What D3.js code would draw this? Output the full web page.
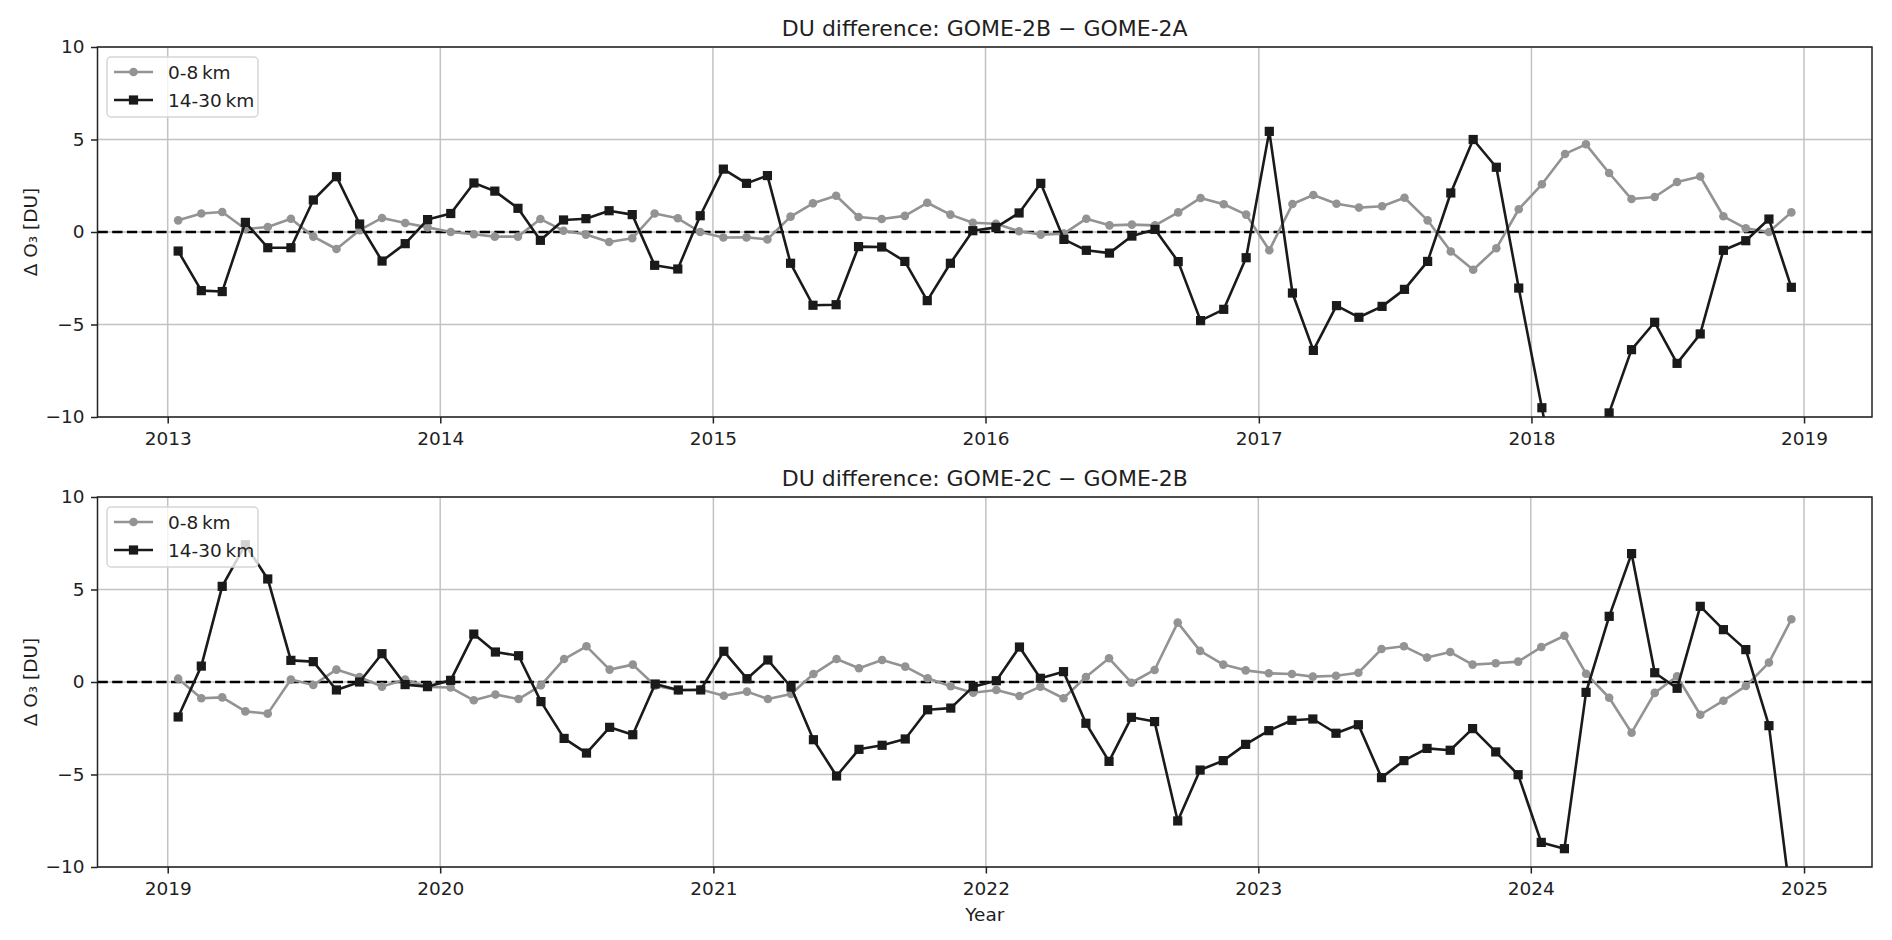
<!DOCTYPE html>
<html>
<head>
<meta charset="utf-8">
<script src="https://cdn.jsdelivr.net/npm/d3@7"></script>
<style>
body { margin: 0; background: #fff; }
text { font-family: "DejaVu Sans", sans-serif; fill: #1f1f1f; }
</style>
</head>
<body>
<div id="chart"></div>
<script>
// years shown in each panel (one value per month)
var yearsTop = [2013, 2014, 2015, 2016, 2017, 2018];
var yearsBottom = [2019, 2020, 2021, 2022, 2023, 2024];

// legend labels and y ticks
var seriesNames = ["0-8\u2009km", "14-30\u2009km"];
var yTicks = [-10, -5, 0, 5, 10];

// GOME-2B - GOME-2A, 0-8 km
var topLow = [
	0.63, 1.0, 1.08, 0.16, 0.27, 0.72, -0.25, -0.92, 0.1, 0.76, 0.49, 0.25,
	0.0, -0.12, -0.25, -0.25, 0.7, 0.07, -0.14, -0.54, -0.34, 1.0, 0.74, 0.0,
	-0.3, -0.29, -0.4, 0.83, 1.55, 1.96, 0.81, 0.7, 0.87, 1.58, 0.94, 0.5,
	0.45, 0.04, -0.14, -0.09, 0.72, 0.36, 0.4, 0.36, 1.06, 1.84, 1.5, 0.94,
	-0.99, 1.51, 2.0, 1.53, 1.32, 1.39, 1.85, 0.63, -1.05, -2.04, -0.88, 1.23,
	2.58, 4.22, 4.74, 3.19, 1.78, 1.89, 2.7, 3.0, 0.85, 0.2, 0.0, 1.06];
// GOME-2B - GOME-2A, 14-30 km
var topHigh = [
	-1.03, -3.17, -3.22, 0.52, -0.85, -0.85, 1.73, 2.99, 0.43, -1.57, -0.63, 0.67,
	1.0, 2.65, 2.21, 1.28, -0.45, 0.65, 0.72, 1.15, 0.94, -1.8, -2.0, 0.88,
	3.4, 2.63, 3.05, -1.69, -3.96, -3.93, -0.79, -0.81, -1.59, -3.71, -1.69, 0.07,
	0.25, 1.03, 2.63, -0.4, -0.99, -1.14, -0.22, 0.14, -1.6, -4.79, -4.18, -1.39,
	5.44, -3.3, -6.4, -3.98, -4.61, -4.02, -3.1, -1.59, 2.11, 5.0, 3.5, -3.03,
	-9.5, -16.0, -15.0, -9.78, -6.36, -4.88, -7.1, -5.51, -0.99, -0.47, 0.7, -2.99];
// GOME-2C - GOME-2B, 0-8 km
var bottomLow = [
	0.18, -0.88, -0.83, -1.59, -1.71, 0.13, -0.16, 0.67, 0.27, -0.25, 0.13, -0.27,
	-0.3, -0.99, -0.68, -0.92, -0.18, 1.24, 1.93, 0.67, 0.94, -0.2, -0.45, -0.41,
	-0.74, -0.52, -0.92, -0.65, 0.43, 1.24, 0.74, 1.19, 0.83, 0.2, -0.23, -0.58,
	-0.43, -0.76, -0.25, -0.88, 0.27, 1.28, -0.04, 0.65, 3.21, 1.68, 0.94, 0.63,
	0.47, 0.43, 0.29, 0.34, 0.5, 1.78, 1.93, 1.32, 1.62, 0.94, 1.01, 1.1,
	1.89, 2.5, 0.45, -0.85, -2.74, -0.59, 0.31, -1.77, -1.01, -0.22, 1.05, 3.39];
// GOME-2C - GOME-2B, 14-30 km
var bottomHigh = [
	-1.89, 0.86, 5.17, 7.42, 5.57, 1.17, 1.1, -0.43, 0.0, 1.53, -0.14, -0.25,
	0.09, 2.59, 1.62, 1.42, -1.06, -3.05, -3.84, -2.45, -2.85, -0.11, -0.43, -0.43,
	1.66, 0.18, 1.19, -0.27, -3.12, -5.08, -3.64, -3.42, -3.08, -1.5, -1.41, -0.25,
	0.07, 1.89, 0.2, 0.56, -2.23, -4.29, -1.91, -2.14, -7.51, -4.76, -4.25, -3.37,
	-2.63, -2.07, -2.0, -2.77, -2.31, -5.17, -4.25, -3.59, -3.69, -2.52, -3.78, -5.01,
	-8.67, -9.01, -0.56, 3.55, 6.94, 0.5, -0.34, 4.09, 2.83, 1.75, -2.36, -12.0];

var width = 1892, height = 940;
var left = 97.5, right = 1872;
var grayColor = "#939393", blackColor = "#1a1a1a";

var svg = d3.select("#chart").append("svg")
	.attr("width", width)
	.attr("height", height);

// mid month dates for a list of years
function monthdates(years){
	var out = [];
	years.forEach(function(y){
		for(var m = 0; m < 12; m++){ out.push(new Date(y, m, 15)); }
	});
	return out;
}

function minus(v){ return String(v).replace("-", "\u2212"); }

// function makepanel
function makepanel(id, top, bottom, title, years, low, high, showYear){
	var dates = monthdates(years);
	var t0 = dates[0].getTime(), t1 = dates[dates.length - 1].getTime();
	var pad = (t1 - t0) * 0.05;

	var x = d3.scaleTime()
		.domain([new Date(t0 - pad), new Date(t1 + pad)])
		.range([left, right]);
	var y = d3.scaleLinear()
		.domain([-10, 10])
		.range([bottom, top]);

	var yearTicks = x.ticks(d3.timeYear.every(1));

	var g = svg.append("g").attr("class", "panel");

	// clip to the plot area
	g.append("clipPath").attr("id", id)
		.append("rect")
		.attr("x", left).attr("y", top)
		.attr("width", right - left).attr("height", bottom - top);

	// grid
	g.selectAll(".gx").data(yearTicks).enter().append("line")
		.attr("x1", function(d){ return x(d); })
		.attr("x2", function(d){ return x(d); })
		.attr("y1", top).attr("y2", bottom)
		.style("stroke", "#c2c2c2").style("stroke-width", 1.5);
	g.selectAll(".gy").data(yTicks).enter().append("line")
		.attr("x1", left).attr("x2", right)
		.attr("y1", function(d){ return y(d); })
		.attr("y2", function(d){ return y(d); })
		.style("stroke", "#c2c2c2").style("stroke-width", 1.5);

	// zero line
	g.append("line")
		.attr("x1", left).attr("x2", right)
		.attr("y1", y(0)).attr("y2", y(0))
		.style("stroke", "#000").style("stroke-width", 2.6)
		.style("stroke-dasharray", "10.3,4.4");

	var plot = g.append("g").attr("clip-path", "url(#" + id + ")");

	var line = d3.line()
		.x(function(d, i){ return x(dates[i]); })
		.y(function(d){ return y(d); });

	// 0-8 km series
	plot.append("path").datum(low)
		.attr("d", line)
		.style("fill", "none").style("stroke", grayColor)
		.style("stroke-width", 2.6).style("stroke-linejoin", "round");
	plot.selectAll(".dot").data(low).enter().append("circle")
		.attr("cx", function(d, i){ return x(dates[i]); })
		.attr("cy", function(d){ return y(d); })
		.attr("r", 4.3)
		.style("fill", grayColor);

	// 14-30 km series
	plot.append("path").datum(high)
		.attr("d", line)
		.style("fill", "none").style("stroke", blackColor)
		.style("stroke-width", 2.6).style("stroke-linejoin", "round");
	plot.selectAll(".sq").data(high).enter().append("rect")
		.attr("x", function(d, i){ return x(dates[i]) - 4.6; })
		.attr("y", function(d){ return y(d) - 4.6; })
		.attr("width", 9.2).attr("height", 9.2)
		.style("fill", blackColor);

	// axes
	var xAxis = d3.axisBottom(x)
		.tickValues(yearTicks)
		.tickFormat(d3.timeFormat("%Y"))
		.tickSize(6.5).tickPadding(8).tickSizeOuter(0);
	var yAxis = d3.axisLeft(y)
		.tickValues(yTicks)
		.tickFormat(minus)
		.tickSize(6.5).tickPadding(6.5).tickSizeOuter(0);

	var ax = g.append("g")
		.attr("transform", "translate(0," + bottom + ")")
		.call(xAxis);
	var ay = g.append("g")
		.attr("transform", "translate(" + left + ",0)")
		.call(yAxis);
	[ax, ay].forEach(function(a){
		a.select(".domain").remove();
		a.selectAll("line").style("stroke", "#222").style("stroke-width", 1.5);
		a.selectAll("text").style("font-size", "18.5px")
			.style("font-family", "DejaVu Sans").style("fill", "#1f1f1f");
	});

	// frame
	g.append("rect")
		.attr("x", left).attr("y", top)
		.attr("width", right - left).attr("height", bottom - top)
		.style("fill", "none").style("stroke", "#222").style("stroke-width", 1.5);

	// title
	g.append("text")
		.attr("x", (left + right) / 2).attr("y", top - 11)
		.attr("text-anchor", "middle")
		.style("font-size", "22px")
		.text(title);

	// y label
	g.append("text")
		.attr("transform", "translate(37," + ((top + bottom) / 2) + ") rotate(-90)")
		.attr("text-anchor", "middle")
		.style("font-size", "18.5px")
		.text("\u0394 O\u2083 [DU]");

	if(showYear){
		g.append("text")
			.attr("x", (left + right) / 2).attr("y", bottom + 54)
			.attr("text-anchor", "middle")
			.style("font-size", "18.5px")
			.text("Year");
	}

	// legend
	var lg = g.append("g").attr("transform", "translate(107," + (top + 10) + ")");
	lg.append("rect")
		.attr("width", 151).attr("height", 60).attr("rx", 4)
		.style("fill", "#fff").style("fill-opacity", 0.8)
		.style("stroke", "#d6d6d6").style("stroke-width", 1.5);
	var items = lg.selectAll(".legend").data(seriesNames).enter().append("g")
		.attr("transform", function(d, i){ return "translate(0," + (15 + i * 28) + ")"; });
	items.append("line")
		.attr("x1", 7).attr("x2", 46)
		.style("stroke", function(d, i){ return i == 0 ? grayColor : blackColor; })
		.style("stroke-width", 2.6);
	items.filter(function(d, i){ return i == 0; }).append("circle")
		.attr("cx", 26.5).attr("r", 4.3).style("fill", grayColor);
	items.filter(function(d, i){ return i == 1; }).append("rect")
		.attr("x", 26.5 - 4.6).attr("y", -4.6).attr("width", 9.2).attr("height", 9.2)
		.style("fill", blackColor);
	items.append("text")
		.attr("x", 61).attr("dy", "0.36em")
		.style("font-size", "18.5px")
		.text(function(d){ return d; });
}

makepanel("clipTop", 47, 417, "DU difference: GOME-2B \u2212 GOME-2A", yearsTop, topLow, topHigh, false);
makepanel("clipBottom", 497, 867, "DU difference: GOME-2C \u2212 GOME-2B", yearsBottom, bottomLow, bottomHigh, true);
</script>
</body>
</html>
